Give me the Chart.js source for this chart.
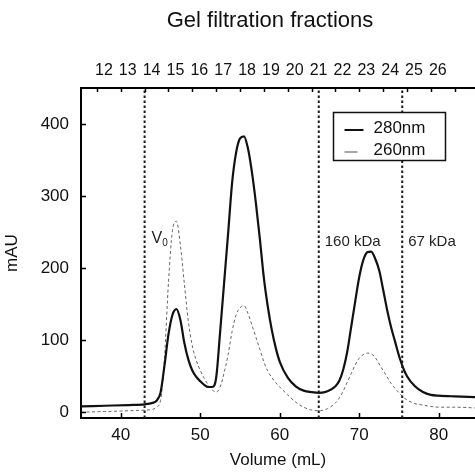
<!DOCTYPE html>
<html>
<head>
<meta charset="utf-8">
<script src="https://cdn.jsdelivr.net/npm/chart.js@4.4.1/dist/chart.umd.min.js"></script>
<style>
  html, body { margin: 0; padding: 0; background: #fff; }
</style>
</head>
<body>
<canvas id="chart" width="475" height="474"></canvas>
<script>
// elution volume (mL) and absorbance (mAU)
var volumes = [35, 38, 41, 43, 44, 44.5, 45, 45.5, 46, 46.5, 47, 47.5, 48, 48.5, 49,
  49.5, 50, 50.5, 51, 51.5, 52, 52.5, 53, 53.5, 54, 54.5, 55, 55.5, 56, 56.5,
  57, 57.5, 58, 58.5, 59, 59.5, 60, 61, 62, 63, 64, 65, 66, 67, 67.5,
  68, 68.5, 69, 69.5, 70, 70.5, 71, 71.5, 72, 72.5, 73, 73.5, 74, 74.5, 75,
  75.5, 76, 77, 78, 79, 80, 82, 84.6];
var abs280 = [8, 9, 10, 11, 13, 16, 27, 65, 108, 135, 143, 128, 96, 73, 58,
  49, 43, 38, 35, 35, 48, 112, 180, 248, 318, 360, 380, 383, 366, 333,
  290, 240, 186, 146, 114, 89, 70, 48, 36, 30, 28, 27, 29, 36, 44,
  60, 85, 120, 155, 188, 211, 222, 223, 213, 197, 170, 142, 118, 98, 78,
  62, 50, 36, 28, 24, 23, 22, 21];
var abs260 = [0, 1, 2, 3, 4, 7, 16, 75, 180, 252, 265, 232, 178, 126, 92,
  72, 58, 47, 38, 31, 28, 35, 55, 80, 112, 135, 145, 148, 137, 121,
  104, 87, 70, 57, 48, 41, 35, 24, 14, 7, 3, 2, 5, 13, 20,
  30, 42, 54, 66, 75, 80, 82, 81, 76, 67, 58, 49, 40, 33, 27,
  21, 17, 12, 10, 8, 7, 7, 6];

// gel filtration fraction boundaries (top axis)
var fractionVolumes = [37, 40, 43, 46, 49, 52, 55, 58, 61, 64, 67, 70, 73, 76, 79, 82];
var fractionLabels = ['12', '13', '14', '15', '16', '17', '18', '19', '20', '21', '22', '23', '24', '25', '26', ''];

// calibration markers
var markerVolumes = [43, 64.9, 75.4];
var markerLabels = ['V', '160 kDa', '67 kDa'];
var markerSubs = ['0', '', ''];

var seriesNames = ['280nm', '260nm'];

var FONT = '"Liberation Sans", Arial, Helvetica, sans-serif';
var Y_MIN = -8, Y_MAX = 450, X_MIN = 35, X_MAX = 84.55;

function xy(xs, ys) {
  return xs.map(function(v, i) { return { x: v, y: ys[i] }; });
}

var markerSets = markerVolumes.map(function(v) {
  return {
    label: '',
    data: [{ x: v, y: Y_MIN }, { x: v, y: Y_MAX }],
    borderColor: '#1a1a1a',
    borderWidth: 2,
    borderDash: [2.5, 2.5],
    pointRadius: 0,
    fill: false,
    isMarker: true
  };
});

var decorations = {
  id: 'decorations',
  afterDraw: function(chart) {
    var ctx = chart.ctx;
    var area = chart.chartArea;
    var xs = chart.scales.x, xt = chart.scales.xTop, ys = chart.scales.y;
    ctx.save();

    // inward tick marks
    ctx.strokeStyle = '#000';
    ctx.lineWidth = 1.5;
    ctx.beginPath();
    xs.ticks.forEach(function(t) {
      var px = Math.round(xs.getPixelForValue(t.value)) + 0.5;
      ctx.moveTo(px, area.bottom);
      ctx.lineTo(px, area.bottom - 5);
    });
    xt.ticks.forEach(function(t) {
      var px = Math.round(xt.getPixelForValue(t.value)) + 0.5;
      ctx.moveTo(px, area.top);
      ctx.lineTo(px, area.top + 4);
    });
    ys.ticks.forEach(function(t) {
      var py = Math.round(ys.getPixelForValue(t.value)) + 0.5;
      ctx.moveTo(area.left, py);
      ctx.lineTo(area.left + 5, py);
    });
    ctx.stroke();

    // marker labels
    ctx.fillStyle = '#222';
    ctx.textBaseline = 'middle';
    ctx.textAlign = 'left';
    var ly = ys.getPixelForValue(236);
    markerVolumes.forEach(function(v, i) {
      var px = xs.getPixelForValue(v) + 6;
      if (markerSubs[i]) {
        ctx.font = '16px ' + FONT;
        ctx.fillText(markerLabels[i], px + 1, ly - 4);
        var w = ctx.measureText(markerLabels[i]).width;
        ctx.font = '10px ' + FONT;
        ctx.fillText(markerSubs[i], px + 1 + w, ly + 1);
      } else {
        ctx.font = '15px ' + FONT;
        ctx.fillText(markerLabels[i], px, ly);
      }
    });

    // title
    ctx.fillStyle = '#111';
    ctx.textAlign = 'center';
    ctx.font = '22px ' + FONT;
    ctx.fillText('Gel filtration fractions', 270, 21);

    // legend (opaque box over the marker lines)
    var bx = 333.5, by = 112.5, bw = 112, bh = 48;
    ctx.fillStyle = '#fff';
    ctx.fillRect(bx, by, bw, bh);
    ctx.lineWidth = 1.5;
    ctx.strokeStyle = '#111';
    ctx.strokeRect(bx, by, bw, bh);
    var curveSets = chart.data.datasets.filter(function(d) { return !d.isMarker; });
    ctx.font = '17px ' + FONT;
    ctx.textAlign = 'left';
    curveSets.forEach(function(d, i) {
      var y = by + 16 + i * 22;
      ctx.beginPath();
      ctx.strokeStyle = i === 0 ? '#111' : '#888';
      ctx.lineWidth = i === 0 ? 2 : 1.5;
      ctx.moveTo(bx + 11, y + 1.5);
      ctx.lineTo(bx + (i === 0 ? 30 : 24), y + 1.5);
      ctx.stroke();
      ctx.fillStyle = '#111';
      ctx.fillText(d.label, bx + 40, y);
    });

    ctx.restore();
  }
};

var ctx = document.getElementById('chart').getContext('2d');

new Chart(ctx, {
  type: 'line',
  data: {
    datasets: markerSets.concat([
      {
        label: seriesNames[0],
        data: xy(volumes, abs280),
        borderColor: '#111',
        borderWidth: 2.2,
        pointRadius: 0,
        cubicInterpolationMode: 'monotone',
        fill: false
      },
      {
        label: seriesNames[1],
        data: xy(volumes, abs260),
        borderColor: '#666',
        borderWidth: 1,
        borderDash: [3, 2.5],
        pointRadius: 0,
        cubicInterpolationMode: 'monotone',
        fill: false
      }
    ])
  },
  options: {
    responsive: false,
    animation: false,
    layout: { padding: 0 },
    plugins: {
      legend: { display: false },
      tooltip: { enabled: false }
    },
    scales: {
      x: {
        type: 'linear',
        position: 'bottom',
        min: X_MIN,
        max: X_MAX,
        grid: { display: false, drawTicks: false },
        border: { display: true, color: '#000', width: 2 },
        ticks: {
          stepSize: 10,
          includeBounds: false,
          padding: 7,
          color: '#111',
          font: { family: FONT, size: 17 },
          maxRotation: 0
        },
        title: {
          display: true,
          text: 'Volume (mL)',
          color: '#111',
          font: { family: FONT, size: 17 },
          padding: { top: 4, bottom: 3 }
        },
        afterFit: function(scale) { scale.height = 56; }
      },
      xTop: {
        type: 'linear',
        position: 'top',
        min: X_MIN,
        max: X_MAX,
        grid: { display: false, drawTicks: false },
        border: { display: true, color: '#000', width: 2 },
        afterBuildTicks: function(scale) {
          scale.ticks = fractionVolumes.map(function(v) { return { value: v }; });
        },
        ticks: {
          autoSkip: false,
          maxRotation: 0,
          padding: 8,
          labelOffset: 7,
          color: '#111',
          font: { family: FONT, size: 16 },
          callback: function(value, index) { return fractionLabels[index]; }
        },
        afterFit: function(scale) { scale.height = 88; }
      },
      y: {
        type: 'linear',
        min: Y_MIN,
        max: Y_MAX,
        grid: { display: false, drawTicks: false },
        border: { display: true, color: '#000', width: 2 },
        ticks: {
          stepSize: 100,
          includeBounds: false,
          padding: 12,
          color: '#111',
          font: { family: FONT, size: 17 }
        },
        title: {
          display: true,
          text: 'mAU',
          color: '#111',
          font: { family: FONT, size: 17 },
          padding: { top: 2, bottom: 4 }
        },
        afterFit: function(scale) { scale.width = 81; }
      }
    }
  },
  plugins: [decorations]
});
</script>
</body>
</html>
